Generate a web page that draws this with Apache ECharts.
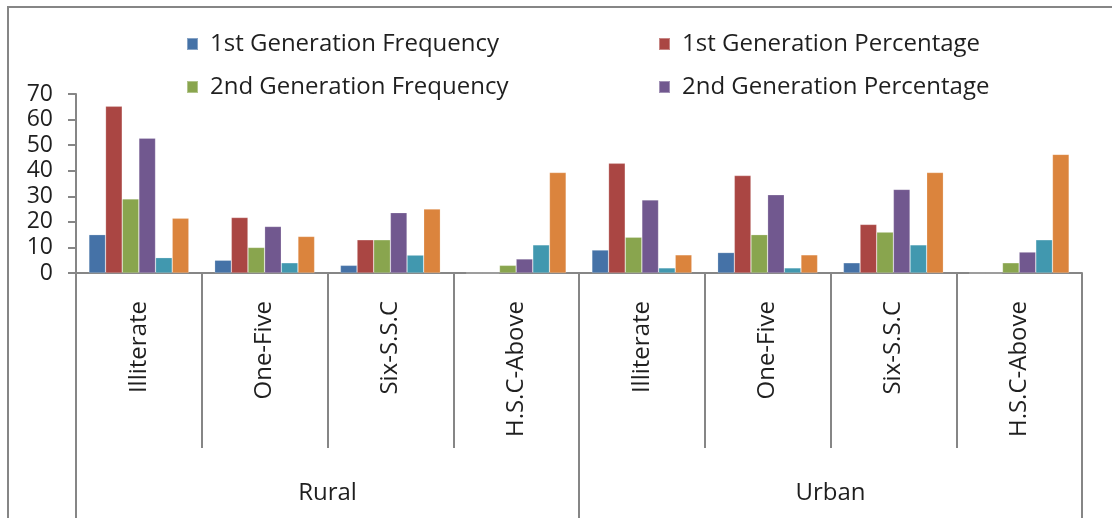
<!DOCTYPE html>
<html>
<head>
<meta charset="utf-8">
<script src="https://cdn.jsdelivr.net/npm/echarts@6/dist/echarts.min.js"></script>
<style>
  html, body { margin: 0; padding: 0; background: #fff; }
  #chart { width: 1112px; height: 518px; }
</style>
</head>
<body>
<div id="chart"></div>
<script>
const categories = ['Illiterate', 'One-Five', 'Six-S.S.C', 'H.S.C-Above', 'Illiterate', 'One-Five', 'Six-S.S.C', 'H.S.C-Above'];
const groups = ['Rural', 'Urban'];
const seriesNames = ['1st Generation Frequency', '1st Generation Percentage', '2nd Generation Frequency', '2nd Generation Percentage', '3rd Generation Frequency', '3rd Generation Percentage'];
const firstFreq  = [15, 5, 3, 0, 9, 8, 4, 0];
const firstPct   = [65.2, 21.7, 13.0, 0, 42.9, 38.1, 19.0, 0];
const secondFreq = [29, 10, 13, 3, 14, 15, 16, 4];
const secondPct  = [52.7, 18.2, 23.6, 5.5, 28.6, 30.6, 32.7, 8.2];
const thirdFreq  = [6, 4, 7, 11, 2, 2, 11, 13];
const thirdPct   = [21.4, 14.3, 25.0, 39.3, 7.1, 7.1, 39.3, 46.4];
const yTicks = [0, 10, 20, 30, 40, 50, 60, 70];

const colors = ['#4572A7', '#AA4643', '#89A54E', '#71588F', '#4198AF', '#DB843D'];
const seriesData = [firstFreq, firstPct, secondFreq, secondPct, thirdFreq, thirdPct];
const FONT = '"Open Sans", sans-serif';
const TXT = '#1f1f1f';
const AX = '#868686';

const chart = echarts.init(document.getElementById('chart'), null, { renderer: 'canvas' });

const legendCommon = {
  orient: 'vertical',
  itemWidth: 11,
  itemHeight: 12,
  itemGap: 19,
  icon: 'rect',
  textStyle: { fontFamily: FONT, fontSize: 24, color: TXT, lineHeight: 24, padding: [0, 0, 0, 7] },
  selectedMode: false
};

chart.setOption({
  animation: false,
  color: colors,
  graphic: [{
    type: 'rect',
    shape: { x: 8, y: 7, width: 1300, height: 700 },
    style: { fill: 'none', stroke: AX, lineWidth: 2 },
    silent: true
  }],
  legend: [
    Object.assign({}, legendCommon, { left: 181, top: 27, data: [seriesNames[0], seriesNames[2]] }),
    Object.assign({}, legendCommon, { left: 653, top: 27, data: [seriesNames[1], seriesNames[3]] })
  ],
  grid: { left: 76, right: 30, top: 94, bottom: 245, containLabel: false },
  xAxis: [{
    type: 'category',
    data: categories,
    position: 'bottom',
    axisLine: { show: true, lineStyle: { color: AX, width: 2 } },
    axisTick: { show: true, interval: 0, length: 175, lineStyle: { color: AX, width: 2 } },
    axisLabel: { interval: 0, rotate: 90, margin: 28, fontFamily: FONT, fontSize: 24, color: TXT }
  }, {
    type: 'category',
    data: groups,
    position: 'bottom',
    axisLine: { show: false },
    axisTick: { show: true, interval: 0, length: 260, lineStyle: { color: AX, width: 2 } },
    axisLabel: { interval: 0, margin: 208, fontFamily: FONT, fontSize: 24, color: TXT }
  }],
  yAxis: {
    type: 'value',
    min: 0,
    max: 70,
    interval: 10,
    splitLine: { show: false },
    axisLine: { show: true, lineStyle: { color: AX, width: 2 } },
    axisTick: { show: true, length: 8, lineStyle: { color: AX, width: 2 } },
    axisLabel: { margin: 23, fontFamily: FONT, fontSize: 23, color: TXT,
      formatter: v => yTicks.includes(v) ? String(v) : '' }
  },
  series: seriesData.map((d, i) => ({
    name: seriesNames[i],
    type: 'bar',
    xAxisIndex: 0,
    data: d,
    barGap: '0%',
    barCategoryGap: '20.5%',
    itemStyle: { color: colors[i], borderColor: 'rgba(255,255,255,0.35)', borderWidth: 0.6 }
  }))
});
</script>
</body>
</html>
